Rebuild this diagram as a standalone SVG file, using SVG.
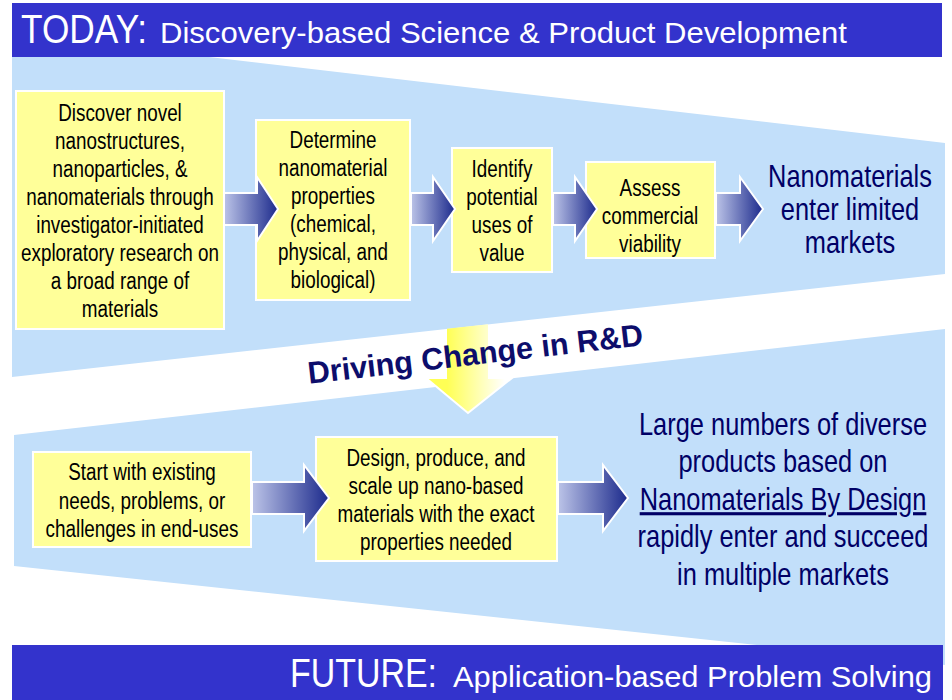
<svg xmlns="http://www.w3.org/2000/svg" width="952" height="700" viewBox="0 0 952 700">
  <defs>
    <linearGradient id="ag" x1="0" y1="0" x2="1" y2="0">
      <stop offset="0" stop-color="#bcc4e8"/>
      <stop offset="1" stop-color="#1c2a8c"/>
    </linearGradient>
    <linearGradient id="yg" gradientUnits="userSpaceOnUse" x1="447" y1="0" x2="505" y2="0">
      <stop offset="0" stop-color="#ffff55"/>
      <stop offset="1" stop-color="#ffffff"/>
    </linearGradient>
    <style>
      .band { fill:#c2dffa; }
      .bar { fill:#3333cc; }
      .box { fill:#ffff99; stroke:#ffffff; stroke-width:2; }
      .arr { fill:url(#ag); stroke:#ffffff; stroke-width:2; }
      .t { font-family:"Liberation Sans", Arial, sans-serif; text-anchor:middle; }
      .bt { font-size:23px; fill:#000000; }
      .rt { font-size:31px; fill:#000066; }
      .title { font-family:"Liberation Sans", Arial, sans-serif; fill:#ffffff; }
    </style>
  </defs>

  <rect x="0" y="0" width="952" height="700" fill="#ffffff"/>

  <g id="bands">
    <polygon class="band" points="12,57 209,57 945,143 945,274 12,377"/>
    <polygon class="band" points="14,435 945,329 945,665 14,566"/>
  </g>

  <g id="header-today">
    <rect class="bar" x="12" y="3" width="930" height="54"/>
    <text class="title" x="21" y="43" font-size="41" textLength="126" lengthAdjust="spacingAndGlyphs">TODAY:</text>
    <text class="title" x="160" y="43" font-size="30" textLength="687" lengthAdjust="spacingAndGlyphs">Discovery-based Science &amp; Product Development</text>
  </g>

  <g id="header-future">
    <rect class="bar" x="12" y="645" width="931" height="55"/>
    <text class="title" x="290" y="687" font-size="41" textLength="147" lengthAdjust="spacingAndGlyphs">FUTURE:</text>
    <text class="title" x="453" y="687" font-size="30" textLength="479" lengthAdjust="spacingAndGlyphs">Application-based Problem Solving</text>
  </g>

  <g id="node-discover">
    <rect class="box" x="16" y="91" width="208" height="238"/>
    <g transform="translate(120 0) scale(0.82 1)">
      <text class="t bt" x="0" y="121">Discover novel</text>
      <text class="t bt" x="0" y="149">nanostructures,</text>
      <text class="t bt" x="0" y="177">nanoparticles, &amp;</text>
      <text class="t bt" x="0" y="205">nanomaterials through</text>
      <text class="t bt" x="0" y="233">investigator-initiated</text>
      <text class="t bt" x="0" y="261">exploratory research on</text>
      <text class="t bt" x="0" y="289">a broad range of</text>
      <text class="t bt" x="0" y="317">materials</text>
    </g>
  </g>

  <g id="node-determine">
    <rect class="box" x="256" y="120" width="154" height="180"/>
    <g transform="translate(333 0) scale(0.82 1)">
      <text class="t bt" x="0" y="148">Determine</text>
      <text class="t bt" x="0" y="176">nanomaterial</text>
      <text class="t bt" x="0" y="204">properties</text>
      <text class="t bt" x="0" y="232">(chemical,</text>
      <text class="t bt" x="0" y="260">physical, and</text>
      <text class="t bt" x="0" y="288">biological)</text>
    </g>
  </g>

  <g id="node-identify">
    <rect class="box" x="452" y="148" width="100" height="124"/>
    <g transform="translate(502 0) scale(0.82 1)">
      <text class="t bt" x="0" y="177">Identify</text>
      <text class="t bt" x="0" y="205">potential</text>
      <text class="t bt" x="0" y="233">uses of</text>
      <text class="t bt" x="0" y="261">value</text>
    </g>
  </g>

  <g id="node-assess">
    <rect class="box" x="586" y="162" width="129" height="96"/>
    <g transform="translate(650 0) scale(0.82 1)">
      <text class="t bt" x="0" y="196">Assess</text>
      <text class="t bt" x="0" y="224">commercial</text>
      <text class="t bt" x="0" y="252">viability</text>
    </g>
  </g>

  <g id="node-limited-markets">
    <g transform="translate(850 0) scale(0.82 1)">
      <text class="t rt" x="0" y="187">Nanomaterials</text>
      <text class="t rt" x="0" y="220">enter limited</text>
      <text class="t rt" x="0" y="253">markets</text>
    </g>
  </g>

  <g id="node-start">
    <rect class="box" x="33" y="452" width="218" height="95"/>
    <g transform="translate(142 0) scale(0.82 1)">
      <text class="t bt" x="0" y="480">Start with existing</text>
      <text class="t bt" x="0" y="509">needs, problems, or</text>
      <text class="t bt" x="0" y="537">challenges in end-uses</text>
    </g>
  </g>

  <g id="node-design">
    <rect class="box" x="316" y="437" width="241" height="124"/>
    <g transform="translate(436 0) scale(0.82 1)">
      <text class="t bt" x="0" y="466">Design, produce, and</text>
      <text class="t bt" x="0" y="494">scale up nano-based</text>
      <text class="t bt" x="0" y="522">materials with the exact</text>
      <text class="t bt" x="0" y="550">properties needed</text>
    </g>
  </g>

  <g id="node-multiple-markets">
    <g transform="translate(783 0) scale(0.82 1)">
      <text class="t rt" x="0" y="435">Large numbers of diverse</text>
      <text class="t rt" x="0" y="472.5">products based on</text>
      <text class="t rt" x="0" y="510" text-decoration="underline">Nanomaterials By Design</text>
      <text class="t rt" x="0" y="547.5">rapidly enter and succeed</text>
      <text class="t rt" x="0" y="585">in multiple markets</text>
    </g>
  </g>

  <g id="connectors">
    <polygon class="arr" points="224,193 257,193 257,177 278,209 257,241 257,225 224,225"/>
    <polygon class="arr" points="411,193 433,193 433,177 455,209 433,241 433,225 411,225"/>
    <polygon class="arr" points="553,193 575,193 575,177 597,209 575,241 575,225 553,225"/>
    <polygon class="arr" points="716,193 740,193 740,177 763,209 740,241 740,225 716,225"/>
    <polygon class="arr" points="252,482 304,482 304,465 329,498 304,531 304,514 252,514"/>
    <polygon class="arr" points="558,482 603,482 603,465 628,498 603,531 603,514 558,514"/>
    <polygon fill="url(#yg)" points="447,328.8 488,324.3 488,378 512,378 468,413 426,378 447,378"/>
    <polyline fill="none" stroke="#ffffff" stroke-width="2" points="488,378 512,378 468,413 426,378 447,378"/>
  </g>

  <g id="driving-change">
    <text x="476.5" y="364.5" transform="rotate(-6.6 476.5 364.5)" font-family="'Liberation Sans', Arial, sans-serif" font-weight="bold" font-size="31" fill="#0d0d6b" text-anchor="middle" textLength="337" lengthAdjust="spacingAndGlyphs">Driving Change in R&amp;D</text>
  </g>
</svg>
